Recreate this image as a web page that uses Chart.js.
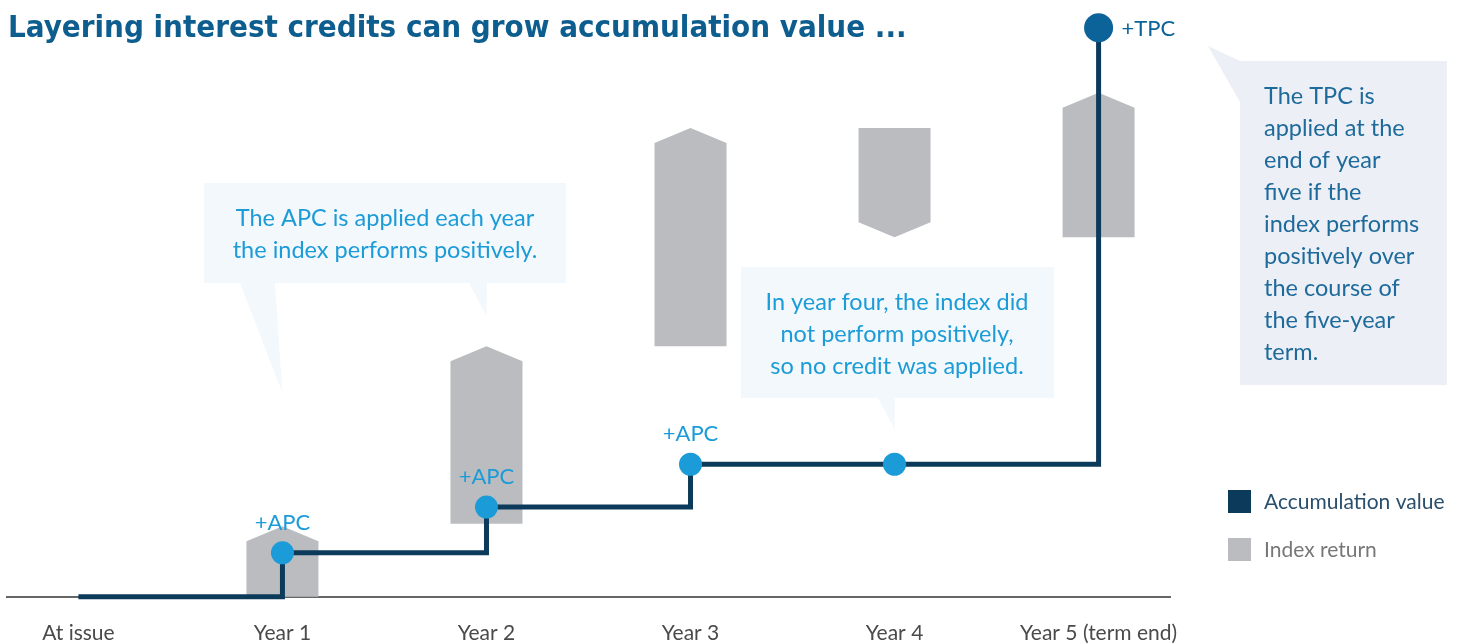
<!DOCTYPE html>
<html>
<head>
<meta charset="utf-8">
<title>Layering interest credits</title>
<script src="https://cdn.jsdelivr.net/npm/chart.js@4.4.1/dist/chart.umd.min.js"></script>
<style>
  html, body { margin: 0; padding: 0; background: #fff; }
  #wrap { width: 1461px; height: 644px; position: relative; }
</style>
</head>
<body>
<div id="wrap"><canvas id="creditChart"></canvas></div>
<script>
// ---------------- DATA ----------------
const categories = ["At issue", "Year 1", "Year 2", "Year 3", "Year 4", "Year 5 (term end)"];
const accumulationValue = [0, 7.6, 15.5, 22.9, 22.9, 98.3];
const creditLabels = ["", "+APC", "+APC", "+APC", "", "+TPC"];

// index return bars (floating, start -> end)
const indexYears = [1, 2, 3, 4, 5];
const indexStart = [0, 12.6, 43.3, 81.0, 62.1];
const indexEnd = [12.2, 43.3, 81.0, 62.1, 87.1];

const titleText = "Layering interest credits can grow accumulation value ...";

// ---------------- STYLE ----------------
const NAVY = "#0c3a5a";
const LIGHT_BLUE = "#1b9bd7";
const TPC_BLUE = "#0b639a";
const BAR_GRAY = "#bbbcc0";
const FONT = "Lato, 'Open Sans', sans-serif";
const ARROW_DEPTH = 15;

// callout bubbles (pixel layout, tails point at a category on the x scale)
const callouts = [
  {
    box: [204, 183, 566, 283], fill: "#f3f8fd", color: LIGHT_BLUE,
    align: "center", textX: 385, textY: 218, gap: 32,
    lines: ["The APC is applied each year", "the index performs positively."],
    tails: [
      { a: [240, 283], b: [275, 283], tipIndex: 1, tipY: 393 },
      { a: [469, 283], b: [487, 283], tipIndex: 2, tipY: 316 }
    ]
  },
  {
    box: [741, 267, 1054, 398], fill: "#f3f8fd", color: LIGHT_BLUE,
    align: "center", textX: 897, textY: 302, gap: 32,
    lines: ["In year four, the index did", "not perform positively,", "so no credit was applied."],
    tails: [
      { a: [878, 398], b: [895, 398], tipIndex: 4, tipY: 429 }
    ]
  },
  {
    box: [1240, 61, 1447, 385], fill: "#eceff5", color: "#1d6a9b",
    align: "left", textX: 1264, textY: 96, gap: 32,
    lines: ["The TPC is", "applied at the", "end of year", "five if the", "index performs",
            "positively over", "the course of", "the five-year", "term."],
    tails: [
      { a: [1240, 61], b: [1240, 102], tipX: 1208, tipY: 46 }
    ]
  }
];

function drawCallout(ctx, c, xs) {
  ctx.save();
  ctx.fillStyle = c.fill;
  ctx.fillRect(c.box[0], c.box[1], c.box[2] - c.box[0], c.box[3] - c.box[1]);
  c.tails.forEach(t => {
    const tipX = t.tipIndex !== undefined ? xs.getPixelForValue(t.tipIndex) : t.tipX;
    ctx.beginPath();
    ctx.moveTo(t.a[0], t.a[1]);
    ctx.lineTo(t.b[0], t.b[1]);
    ctx.lineTo(tipX, t.tipY);
    ctx.closePath();
    ctx.fill();
  });
  ctx.fillStyle = c.color;
  ctx.font = "23.5px " + FONT;
  ctx.textAlign = c.align;
  ctx.textBaseline = "middle";
  c.lines.forEach((line, i) => ctx.fillText(line, c.textX, c.textY + i * c.gap));
  ctx.restore();
}

// ---------------- PLUGIN ----------------
const infographic = {
  id: "infographic",
  beforeDatasetsDraw(chart) {
    callouts.forEach(c => drawCallout(chart.ctx, c, chart.scales.x));
  },
  // draw the index bars as arrows (pointing from start to end) instead of rectangles
  beforeDatasetDraw(chart, args) {
    if (args.meta.type !== "bar") return;
    const ctx = chart.ctx;
    const ys = chart.scales.y;
    ctx.save();
    ctx.fillStyle = chart.data.datasets[args.index].backgroundColor;
    args.meta.data.forEach((bar, i) => {
      const half = bar.width / 2;
      const basePx = ys.getPixelForValue(indexStart[i]);
      const tipPx = ys.getPixelForValue(indexEnd[i]);
      const d = tipPx < basePx ? ARROW_DEPTH : -ARROW_DEPTH;
      ctx.beginPath();
      ctx.moveTo(bar.x - half, basePx);
      ctx.lineTo(bar.x - half, tipPx + d);
      ctx.lineTo(bar.x, tipPx);
      ctx.lineTo(bar.x + half, tipPx + d);
      ctx.lineTo(bar.x + half, basePx);
      ctx.closePath();
      ctx.fill();
    });
    ctx.restore();
    return false;
  },
  afterDatasetsDraw(chart) {
    const ctx = chart.ctx;
    const meta = chart.getDatasetMeta(0);
    ctx.save();
    ctx.font = "22px " + FONT;
    ctx.textBaseline = "middle";
    meta.data.forEach((pt, i) => {
      const label = creditLabels[i];
      if (!label) return;
      if (i === meta.data.length - 1) {
        ctx.fillStyle = TPC_BLUE;
        ctx.textAlign = "left";
        ctx.fillText(label, pt.x + 23, pt.y + 1);
      } else {
        ctx.fillStyle = LIGHT_BLUE;
        ctx.textAlign = "center";
        ctx.fillText(label, pt.x, pt.y - 30);
      }
    });
    ctx.restore();
  },
  afterDraw(chart) {
    const ctx = chart.ctx;
    ctx.save();
    // title
    ctx.fillStyle = "#0d5e8f";
    ctx.font = "bold 31px 'DejaVu Sans Condensed', 'DejaVu Sans', sans-serif";
    ctx.textAlign = "left";
    ctx.textBaseline = "middle";
    ctx.fillText(titleText, 8, 29);

    // legend
    const items = [
      { text: chart.data.datasets[0].label, box: chart.data.datasets[0].borderColor, color: "#2a4f6c" },
      { text: chart.data.datasets[1].label, box: chart.data.datasets[1].backgroundColor, color: "#777777" }
    ];
    ctx.font = "21px " + FONT;
    items.forEach((it, i) => {
      const y = 490 + i * 48;
      ctx.fillStyle = it.box;
      ctx.fillRect(1228, y, 23, 23);
      ctx.fillStyle = it.color;
      ctx.fillText(it.text, 1264, y + 12);
    });
    ctx.restore();
  }
};

// ---------------- CHART ----------------
const ctx = document.getElementById("creditChart").getContext("2d");

new Chart(ctx, {
  type: "bar",
  data: {
    datasets: [
      {
        type: "line",
        label: "Accumulation value",
        data: accumulationValue.map((v, i) => ({ x: i, y: v })),
        borderColor: NAVY,
        borderWidth: 5,
        stepped: "before",
        pointRadius: accumulationValue.map((v, i) => i === 0 ? 0 : (i === accumulationValue.length - 1 ? 14.5 : 11.5)),
        pointBackgroundColor: accumulationValue.map((v, i) => i === accumulationValue.length - 1 ? TPC_BLUE : LIGHT_BLUE),
        pointBorderWidth: 0,
        clip: false,
        order: 0
      },
      {
        label: "Index return",
        data: indexYears.map((yr, i) => ({ x: yr, y: [indexStart[i], indexEnd[i]] })),
        backgroundColor: BAR_GRAY,
        barThickness: 72,
        order: 1
      }
    ]
  },
  options: {
    responsive: true,
    maintainAspectRatio: false,
    animation: false,
    events: [],
    layout: { autoPadding: false, padding: { left: 7, right: 291, top: 18, bottom: -26 } },
    scales: {
      x: {
        type: "linear",
        min: -0.35,
        max: 5.35,
        offset: false,
        afterBuildTicks: scale => {
          scale.ticks = categories.map((c, i) => ({ value: i }));
        },
        // labels may overhang the plot edges, don't let them shrink it
        afterFit: scale => {
          scale.paddingLeft = 0;
          scale.paddingRight = 0;
        },
        ticks: {
          callback: v => categories[v],
          color: "#4a4a4a",
          font: { family: FONT, size: 21 },
          padding: 24,
          autoSkip: false,
          maxRotation: 0
        },
        grid: { display: false, drawTicks: false, offset: false },
        border: { display: true, color: "#666666", width: 2 }
      },
      y: {
        display: false,
        min: 0,
        max: 100
      }
    },
    plugins: {
      legend: { display: false },
      tooltip: { enabled: false }
    }
  },
  plugins: [infographic]
});
</script>
</body>
</html>
